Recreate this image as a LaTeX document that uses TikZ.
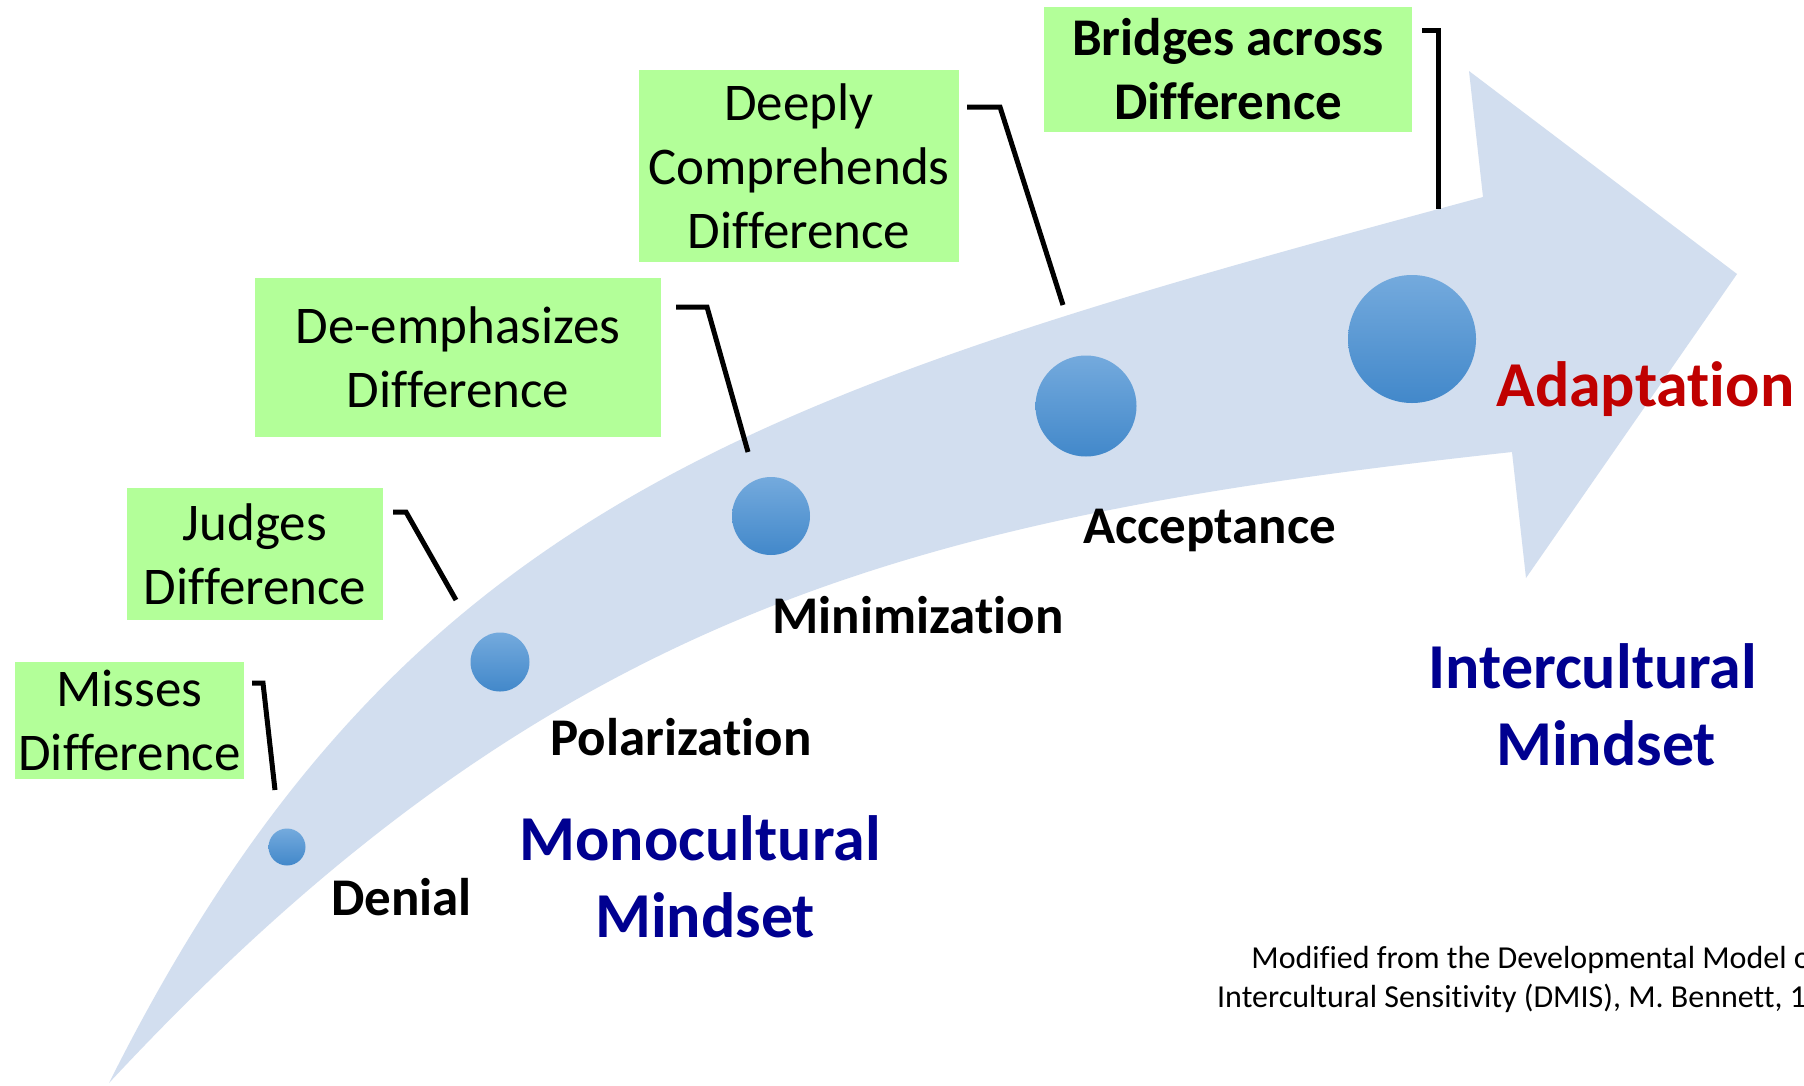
\documentclass[tikz,border=0pt]{standalone}
\usepackage{fontspec}
\setmainfont{Carlito}[Ligatures=NoCommon]
\definecolor{arrowblue}{RGB}{210,222,239}
\definecolor{boxgreen}{RGB}{179,255,153}
\definecolor{dottop}{RGB}{116,170,221}
\definecolor{dotbot}{RGB}{66,136,202}
\definecolor{mindblue}{RGB}{0,0,144}
\definecolor{adaptred}{RGB}{192,0,0}
\begin{document}
\begin{tikzpicture}[x=1pt,y=-1pt,
  gbox/.style={fill=boxgreen, inner sep=0pt, align=center, font=\fontsize{53}{64}\selectfont},
  dot/.style={circle, inner sep=0pt, top color=dottop, bottom color=dotbot, draw=none},
  stage/.style={inner sep=0pt, anchor=base west, font=\bfseries\fontsize{53}{64}\selectfont},
  mind/.style={inner sep=0pt, align=center, anchor=base, text=mindblue, font=\bfseries\fontsize{64}{77}\selectfont},
  bracket/.style={line width=5pt, black}]
\useasboundingbox (0,0) rectangle (1804,1085);
\fill[white] (0,0) rectangle (1804,1085);
% big curved arrow
\fill[arrowblue] (109,1083) .. controls (400,502) and (759,392) .. (1483,197)
  -- (1469,71) -- (1737,274) -- (1526,578) -- (1512,452)
  .. controls (916,517) and (551,608) .. (109,1083) -- cycle;
% dots
\node[dot, minimum size=37pt] (d1) at (287,847) {};
\node[dot, minimum size=59pt] (d2) at (500,662) {};
\node[dot, minimum size=78pt] (d3) at (771,516) {};
\node[dot, minimum size=101pt] (d4) at (1086,406) {};
\node[dot, minimum size=128pt] (d5) at (1412,339) {};
% stage labels
\node[stage] (denial) at (331,915) {Denial};
\node[stage] (polar) at (550,755) {Polarization};
\node[stage] (minim) at (772,633) {Minimization};
\node[stage] (accept) at (1083,543) {Acceptance};
\node[stage, text=adaptred, font=\bfseries\fontsize{64}{77}\selectfont] (adapt) at (1496,406) {Adaptation};
% mindsets (base anchor = baseline of last line)
\node[mind] (mono) at (700,937) {Monocultural\\\hspace*{10pt}Mindset};
\node[mind] (inter) at (1593,765) {Intercultural\\\hspace*{26pt}Mindset};
% green boxes
\node[gbox, minimum width=229pt, minimum height=117pt] (b1) at (129.5,720.5) {Misses\\Difference};
\node[gbox, minimum width=256pt, minimum height=132pt] (b2) at (255,554) {Judges\\Difference};
\node[gbox, minimum width=406pt, minimum height=159pt] (b3) at (458,357.5) {De-emphasizes\\Difference};
\node[gbox, minimum width=320pt, minimum height=192pt] (b4) at (799,166) {Deeply\\Comprehends\\Difference};
\node[gbox, minimum width=368pt, minimum height=125pt, font=\bfseries\fontsize{53}{64}\selectfont] (b5) at (1228,69.5) {Bridges across\\Difference};
% bracket coordinates
\coordinate (k1a) at (252,683); \coordinate (k1b) at (263,683); \coordinate (k1c) at (275,790);
\coordinate (k2a) at (393,512); \coordinate (k2b) at (406,512); \coordinate (k2c) at (456,600);
\coordinate (k3a) at (676,307); \coordinate (k3b) at (707,307); \coordinate (k3c) at (748,452);
\coordinate (k4a) at (967,107); \coordinate (k4b) at (1000,107); \coordinate (k4c) at (1063,305);
\coordinate (k5a) at (1422,30); \coordinate (k5b) at (1438,30); \coordinate (k5c) at (1438,209);
\draw[bracket] (k1a) -- (k1b) -- (k1c);
\draw[bracket] (k2a) -- (k2b) -- (k2c);
\draw[bracket] (k3a) -- (k3b) -- (k3c);
\draw[bracket] (k4a) -- (k4b) -- (k4c);
\draw[bracket] (k5a) -- (k5b) -- (k5c);
% source note
\node[inner sep=0pt, align=center, anchor=base, font=\fontsize{32}{39}\selectfont] (note) at (1536,1007) {Modified from the Developmental Model of\\Intercultural Sensitivity (DMIS), M. Bennett, 1986};
\end{tikzpicture}
\end{document}
